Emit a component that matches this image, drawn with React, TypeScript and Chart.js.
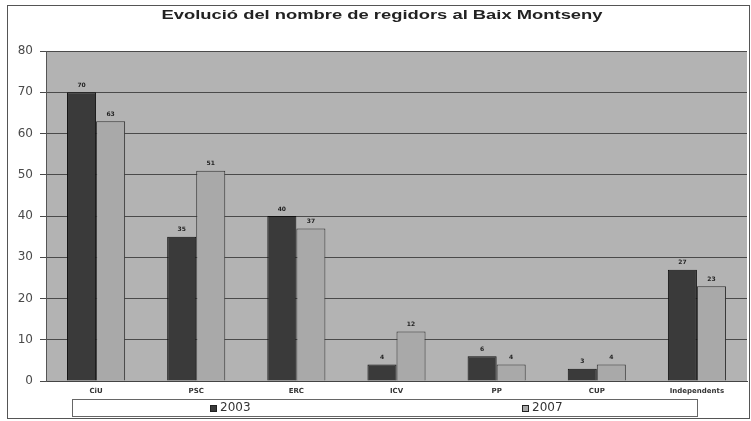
import React, { useEffect, useRef } from "react";
import { Chart, registerables } from "chart.js";

Chart.register(...registerables);

const TITLE = "Evolució del nombre de regidors al Baix Montseny";
const CATEGORIES = ["CiU", "PSC", "ERC", "ICV", "PP", "CUP", "Independents"];
const SERIES_2003 = [70, 35, 40, 4, 6, 3, 27];
const SERIES_2007 = [63, 51, 37, 12, 4, 4, 23];
const SERIES_LABELS = ["2003", "2007"];
const Y_MIN = 0;
const Y_MAX = 80;
const Y_STEP = 10;

const frameAndBg = {
  id: "frameAndBg",
  beforeDraw(chart: any) {
    const { ctx, chartArea, width, height } = chart;
    ctx.save();
    ctx.fillStyle = "#ffffff";
    ctx.fillRect(0, 0, width, height);
    ctx.fillStyle = "#b3b3b3";
    ctx.fillRect(chartArea.left, chartArea.top, chartArea.right - chartArea.left, chartArea.bottom - chartArea.top);
    ctx.strokeStyle = "#555555";
    ctx.lineWidth = 1;
    ctx.strokeRect(7.5, 5.5, 742, 413);
    ctx.restore();
  },
};

const titlePlugin = {
  id: "stretchTitle",
  afterDraw(chart: any) {
    const { ctx } = chart;
    ctx.save();
    ctx.font = "bold 13px 'Liberation Sans', Arial, sans-serif";
    ctx.fillStyle = "#222222";
    ctx.textAlign = "center";
    ctx.textBaseline = "middle";
    const w = ctx.measureText(TITLE).width;
    const target = 441;
    ctx.translate(382, 15);
    ctx.scale(target / w, 1);
    ctx.fillText(TITLE, 0, 0);
    ctx.restore();
  },
};

const valueLabels = {
  id: "valueLabels",
  afterDatasetsDraw(chart: any) {
    const { ctx } = chart;
    ctx.save();
    ctx.font = "bold 6px 'DejaVu Sans', sans-serif";
    ctx.fillStyle = "#222222";
    ctx.textAlign = "center";
    ctx.textBaseline = "middle";
    chart.data.datasets.forEach((ds: any, i: number) => {
      const meta = chart.getDatasetMeta(i);
      meta.data.forEach((el: any, j: number) => {
        ctx.fillText(String(ds.data[j]), el.x, el.y - 7);
      });
    });
    ctx.restore();
  },
};

const boxLegend = {
  id: "boxLegend",
  afterDraw(chart: any) {
    const { ctx } = chart;
    const left = 72;
    const right = 697;
    const top = 399;
    const h = 17;
    ctx.save();
    ctx.fillStyle = "#ffffff";
    ctx.fillRect(left, top, right - left, h);
    ctx.strokeStyle = "#666666";
    ctx.lineWidth = 1;
    ctx.strokeRect(left + 0.5, top + 0.5, right - left, h);
    ctx.font = "12px 'DejaVu Sans', sans-serif";
    ctx.textBaseline = "middle";
    ctx.textAlign = "left";
    const n = chart.data.datasets.length;
    const slot = (right - left) / n;
    chart.data.datasets.forEach((ds: any, i: number) => {
      const label = ds.label;
      const tw = ctx.measureText(label).width;
      const box = 7;
      const gap = 3;
      const total = box + gap + tw;
      const cx = left + slot * i + slot / 2 + 2;
      const x0 = Math.round(cx - total / 2);
      const cy = top + h / 2 + 0.5;
      ctx.fillStyle = ds.backgroundColor;
      ctx.fillRect(x0, Math.round(cy - box / 2), box, box);
      ctx.strokeStyle = "#222222";
      ctx.strokeRect(x0 + 0.5, Math.round(cy - box / 2) + 0.5, box - 1, box - 1);
      ctx.fillStyle = "#333333";
      ctx.fillText(label, x0 + box + gap, cy);
    });
    ctx.restore();
  },
};

export default function App() {
  const ref = useRef<HTMLCanvasElement | null>(null);
  useEffect(() => {
    if (!ref.current) return;
    const chart = new Chart(ref.current, {
      type: "bar",
      data: {
        labels: CATEGORIES,
        datasets: [
          {
            label: SERIES_LABELS[0],
            data: SERIES_2003,
            backgroundColor: "#3a3a3a",
            borderColor: "#111111",
            borderWidth: 1,
            barPercentage: 1,
            categoryPercentage: 0.58,
          },
          {
            label: SERIES_LABELS[1],
            data: SERIES_2007,
            backgroundColor: "#a9a9a9",
            borderColor: "#333333",
            borderWidth: 1,
            barPercentage: 1,
            categoryPercentage: 0.58,
          },
        ],
      },
      options: {
        responsive: false,
        animation: false,
        devicePixelRatio: 1,
        layout: { padding: { left: 8, right: 4, top: 51, bottom: 24 } },
        plugins: {
          legend: { display: false },
          title: { display: false },
          tooltip: { enabled: false },
        },
        scales: {
          x: {
            grid: { display: false, drawTicks: false, tickLength: 0 },
            border: { display: true, color: "#444444" },
            ticks: {
              font: { family: "'DejaVu Sans', sans-serif", size: 7, weight: "bold" },
              color: "#333333",
              padding: 6,
              maxRotation: 0,
              autoSkip: false,
            },
            afterFit(scale: any) {
              scale.height = 16;
            },
          },
          y: {
            min: Y_MIN,
            max: Y_MAX,
            grid: { color: "#4a4a4a", lineWidth: 1, tickLength: 6, drawTicks: true },
            border: { display: true, color: "#555555" },
            ticks: {
              stepSize: Y_STEP,
              font: { family: "'DejaVu Sans', sans-serif", size: 12 },
              color: "#4a4a4a",
              padding: 7,
            },
            afterFit(scale: any) {
              scale.width = 38;
            },
          },
        },
      },
      plugins: [frameAndBg, valueLabels, titlePlugin, boxLegend],
    } as any);
    return () => chart.destroy();
  }, []);
  return (
    <div style={{ position: "fixed", left: 0, top: 0, width: 751, height: 421, background: "#fff" }}>
      <canvas ref={ref} width={751} height={421} style={{ display: "block", width: 751, height: 421 }} />
    </div>
  );
}
